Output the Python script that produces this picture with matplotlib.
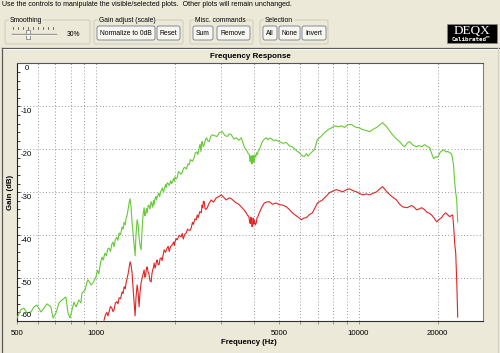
import matplotlib
matplotlib.use("Agg")
import matplotlib.pyplot as plt
from matplotlib.patches import FancyBboxPatch, Rectangle

# ---- data (Hz, dB) ----
green_freq = [500, 517, 531, 545, 565, 580, 595, 617, 633, 650, 673, 686, 704, 722, 742,
              768, 782, 796, 810, 824, 839, 861, 876, 884, 908, 924, 932, 957, 974,
              1000, 1012, 1025, 1040, 1054, 1066, 1080, 1095, 1108, 1121, 1135, 1150, 1160,
              1171, 1185, 1200, 1212, 1224, 1240, 1257, 1268, 1280, 1292, 1302, 1315, 1325,
              1337, 1348, 1360, 1372, 1390, 1409, 1420, 1434, 1447, 1459, 1472, 1485, 1500,
              1512, 1525, 1535, 1545, 1556, 1566, 1578, 1590, 1605, 1622, 1633, 1645, 1655,
              1665, 1678, 1690, 1700, 1710, 1735, 1748, 1760, 1790, 1805, 1818, 1840, 1853,
              1866, 1883, 1900, 1925, 1938, 1950, 1975, 1988, 2000, 2020, 2038, 2060, 2080,
              2105, 2130, 2155, 2180, 2210, 2240, 2265, 2285, 2300, 2330, 2366, 2390, 2420,
              2445, 2473, 2490, 2510, 2525, 2540, 2560, 2584, 2610, 2637, 2665, 2700, 2735,
              2772, 2821, 2896, 2948, 3027, 3100, 3167, 3219, 3276, 3350, 3422, 3500, 3576,
              3671, 3720, 3760, 3800, 3837, 3855, 3870, 3888, 3905, 3920, 3940, 3958, 3975,
              3990, 4010, 4035, 4060, 4090, 4118, 4150, 4190, 4250, 4302, 4380,
              4456, 4520, 4575, 4656, 4750, 4830, 4995, 5150, 5312, 5450, 5599, 5800, 5954,
              6100, 6221, 6330, 6420, 6501, 6650, 6794, 6974, 7200, 7417, 7600, 7752, 7900,
              8099, 8300, 8461, 8600, 8843, 9100, 9404, 9600, 9826, 10100, 10360, 10700,
              11015, 11400, 11713, 12050, 12350, 12600, 12794, 13100, 13485, 13900, 14340,
              14700, 14985, 15300, 15656, 16100, 16652, 17000, 17400, 17862, 18300, 18664,
              19000, 19334, 19700, 20027, 20500, 21110, 21500, 21865, 22300, 22646, 23000,
              23249, 23450, 23660, 23873]
green_gain = [-59.3, -57.4, -57.0, -58.1, -57.9, -56.7, -56.3, -57.9, -57.0, -56.0, -56.7,
              -59.3, -58.1, -55.8, -55.1, -54.4, -58.1, -59.3, -57.4, -55.6, -56.7, -55.1,
              -55.8, -53.5, -52.8, -50.9, -50.4, -51.6, -51.1,
              -49.7, -48.2, -49.0, -46.5, -45.1, -45.8, -44.2, -44.8, -43.2, -43.0, -43.8,
              -42.0, -41.6, -42.7, -41.0, -40.5, -41.2, -39.5, -39.9, -38.1, -38.6, -37.0,
              -37.6, -36.0, -35.2, -34.0, -32.5, -31.5, -33.5, -37.1, -41.0, -44.8, -40.0,
              -36.4, -37.5, -40.5, -42.5, -43.4, -38.0, -35.0, -33.6, -35.5, -35.0, -33.8,
              -34.8, -33.2, -33.0, -33.9, -32.2, -32.8, -33.5, -31.9, -32.9, -31.5, -31.0,
              -31.8, -31.1, -30.2, -31.0, -30.0, -29.0, -30.0, -29.4, -28.2, -28.9, -27.8,
              -28.0, -28.4, -27.3, -28.0, -27.8, -26.8, -27.4, -26.4, -26.9, -26.6, -25.2,
              -25.4, -25.8, -25.4, -24.4, -24.2, -24.6, -23.4, -23.6, -22.4, -22.5, -22.8,
              -21.9, -20.8, -20.6, -21.2, -19.6, -18.8, -20.5, -18.4, -18.2, -19.4, -18.9,
              -17.8, -17.3, -18.0, -18.2, -17.0,
              -16.6, -16.8, -17.0, -16.1, -15.9, -16.8, -17.0, -16.4, -16.6, -17.6, -17.3,
              -17.9, -17.3, -19.4, -20.0, -20.4, -21.0, -21.2, -22.5, -22.9, -21.5, -21.8,
              -23.4, -23.2, -21.4, -21.6, -23.0, -22.4, -21.3, -21.8, -20.8, -21.2, -20.3,
              -20.1, -19.0, -18.2, -17.6,
              -17.3, -17.8, -17.4, -17.5, -18.0, -17.8, -18.2, -18.6, -18.4, -19.2,
              -19.4, -20.3, -20.8, -21.5, -21.7, -21.0, -21.6, -21.2, -20.6, -20.1, -17.7,
              -17.0, -16.1, -15.6, -15.2, -15.0, -14.5, -14.7, -14.7, -14.5, -14.9, -14.3,
              -14.2, -14.6, -14.9, -15.0, -15.4, -15.6, -15.9, -15.3, -14.9, -14.3, -13.8,
              -14.3, -14.7, -15.6, -16.6, -17.5, -18.2, -19.0, -19.4, -18.6, -18.2, -19.0,
              -19.4, -19.1, -19.4, -18.9, -19.4, -19.6, -21.0, -22.2, -21.7, -21.9, -20.6,
              -20.1, -20.6, -20.5, -20.8, -21.2, -23.5, -27.8, -30.0, -31.8, -36.9]

red_freq = [1073, 1085, 1100, 1110, 1121, 1135, 1150, 1160, 1171, 1185, 1200, 1212, 1224,
            1240, 1257, 1268, 1280, 1292, 1302, 1315, 1325, 1337, 1348, 1360, 1372, 1390,
            1409, 1420, 1434, 1445, 1459, 1470, 1485, 1505, 1525, 1535, 1545, 1556, 1566,
            1578, 1590, 1605, 1622, 1633, 1645, 1655, 1665, 1678, 1690, 1700, 1710, 1725,
            1740, 1755, 1771, 1785, 1800, 1818, 1840, 1866, 1883, 1900, 1925, 1950, 1975,
            1988, 2000, 2020, 2038, 2075, 2110, 2130, 2150, 2178, 2206, 2230, 2250, 2280,
            2305, 2330, 2350, 2380, 2408, 2430, 2450, 2485, 2517, 2535, 2550, 2565, 2584,
            2600, 2620, 2653,
            2700, 2747, 2800, 2871, 2940, 3000, 3080, 3135, 3219, 3276, 3350, 3422, 3500,
            3576, 3650, 3736, 3780, 3820, 3845, 3870, 3888, 3905, 3925, 3950, 3968, 3985,
            4010, 4045, 4081, 4105, 4130, 4160, 4190, 4280, 4378,
            4456, 4575, 4700, 4850, 4995, 5150, 5312, 5450, 5599, 5800, 6060, 6200, 6331,
            6500, 6674, 6974, 7288, 7500, 7752, 8000, 8241, 8450, 8688, 9000, 9240, 9500,
            9826, 10100, 10360, 10700, 11015, 11400, 11713, 12050, 12350, 12600, 12905,
            13400, 13964, 14300, 14722, 15300, 15937, 16300, 16652, 17000, 17398, 17800,
            18177, 18600, 18995, 19400, 19852, 20300, 20743, 21100, 21485, 21900, 22252,
            22600, 22846, 23047, 23250, 23454, 23660, 23873]
red_gain = [-59.8, -58.6, -58.0, -58.8, -57.9, -56.6, -57.0, -57.8, -57.4, -55.8, -55.5,
            -56.0, -54.6, -54.8, -53.2, -53.6, -52.0, -52.5, -51.1, -50.0, -49.0, -47.5,
            -46.2, -47.0, -48.8, -54.0, -58.8, -54.5, -51.6, -53.0, -56.7, -53.5, -51.1,
            -49.5, -48.1, -49.8, -49.5, -47.8, -47.4, -48.5, -49.0, -50.6, -50.9, -49.0,
            -48.0, -47.6, -46.5, -47.7, -47.0, -46.0, -45.8, -46.9, -46.8, -45.4, -45.3,
            -45.9, -44.8, -43.4, -44.0, -43.0, -42.6, -43.8, -42.6, -42.3, -41.6, -42.4,
            -41.5, -40.8, -41.1, -40.0, -40.4, -39.6, -40.9, -39.8, -39.5, -38.6, -38.8,
            -38.9, -38.3, -37.0, -37.5, -36.2, -36.4, -35.3, -35.9, -34.5, -34.8, -33.0,
            -33.6, -32.1, -32.2, -33.8, -34.0, -33.6,
            -32.5, -31.8, -32.3, -31.3, -31.0, -30.6, -31.3, -31.8, -31.3, -31.5, -32.0,
            -32.5, -32.8, -33.4, -34.0, -34.8, -35.4, -35.6, -36.8, -37.3, -35.8, -36.4,
            -38.0, -37.8, -36.0, -37.4, -36.5, -37.6, -37.1, -35.9, -35.8, -35.2, -34.8,
            -33.5, -32.5,
            -32.3, -32.2, -32.8, -32.5, -32.9, -33.0, -33.4, -34.0, -34.8, -35.5,
            -36.4, -36.0, -35.9, -35.2, -34.8, -32.5, -31.8, -31.0, -30.1, -29.7, -29.4,
            -29.6, -29.9, -29.4, -29.2, -29.6, -29.9, -30.3, -30.6, -30.4, -30.6, -30.2,
            -29.9, -29.2, -28.7, -29.3, -30.1, -31.0, -31.8, -32.7, -33.4, -33.6, -33.1,
            -33.5, -34.1, -33.9, -33.6, -34.0, -34.6, -34.9, -35.3, -36.0, -36.9, -36.3,
            -35.9, -35.2, -34.8, -35.3, -35.7, -35.4, -35.3, -38.1, -42.0, -44.1, -50.4,
            -59.1]

x_major = [500, 1000, 5000, 10000, 20000]
x_minor = [600, 700, 800, 900, 2000, 3000, 4000, 6000, 7000, 8000, 9000]
y_major = [0, -10, -20, -30, -40, -50, -60]
y_minor = list(range(-58, 0, 2))

# ---- figure / pixel helpers ----
W, H = 500, 353
BG = "#ECE9D8"
plt.rcParams["font.family"] = ["Liberation Sans", "DejaVu Sans"]

fig = plt.figure(figsize=(W / 100, H / 100), dpi=100, facecolor=BG)
# full-figure axes in pixel units for the window chrome
ui = fig.add_axes([0, 0, 1, 1], zorder=0)
ui.set_xlim(0, W)
ui.set_ylim(H, 0)
ui.axis("off")


def button(x, y, w, h, label):
    ui.add_patch(FancyBboxPatch((x, y), w, h, boxstyle="round,pad=0,rounding_size=2",
                                fc="#F7F6F1", ec="#6F7A8A", lw=0.6))
    ui.text(x + w / 2, y + h / 2 + 0.5, label, ha="center", va="center", fontsize=4.9)


def group(x, y, w, h, label):
    ui.add_patch(FancyBboxPatch((x, y), w, h, boxstyle="round,pad=0,rounding_size=2",
                                fc="none", ec="#CFCBB8", lw=0.7))
    ui.text(x + 5, y, label, ha="left", va="center", fontsize=4.9,
            bbox=dict(fc=BG, ec="none", pad=0.6))


ui.text(2, 5, "Use the controls to manipulate the visible/selected plots.  "
        "Other plots will remain unchanged.", ha="left", va="center", fontsize=5.0)

group(5, 20, 85, 24, "Smoothing")
ui.plot([12, 56], [34, 34], color="#9A9A90", lw=1.0)
ui.plot([12, 56], [35, 35], color="white", lw=0.5)
for tx in range(13, 56, 5):
    ui.plot([tx, tx], [27, 29], color="#303030", lw=0.5)
ui.add_patch(Rectangle((25.5, 30), 4.5, 9, fc="#F4F3EE", ec="#707070", lw=0.5))
ui.text(67, 34, "30%", ha="left", va="center", fontsize=4.9)

group(94, 20, 89, 24, "Gain adjust (scale)")
button(97, 26, 58, 14, "Normalize to 0dB")
button(157, 26, 23, 14, "Reset")

group(190, 20, 63, 24, "Misc. commands")
button(193, 26, 20, 14, "Sum")
button(217, 26, 33, 14, "Remove")

group(260, 20, 68, 24, "Selection")
button(263, 26, 14, 14, "All")
button(279, 26, 21, 14, "None")
button(302, 26, 24, 14, "Invert")

# logo
ui.add_patch(Rectangle((447, 24), 50, 19, fc="black", ec="#888888", lw=0.5))
ui.text(472, 31, "DEQX", ha="center", va="center", color="white", fontsize=9.5,
        family="Liberation Serif")
ui.text(471, 39.5, "Calibrated\u2122", ha="center", va="center", color="white",
        fontsize=4.2, fontweight="bold", family="DejaVu Sans Mono")

# panel separator / frame
ui.plot([2, W], [48, 48], color="#5A5A5A", lw=0.9)
ui.plot([2, W], [49.2, 49.2], color="white", lw=0.6)
ui.plot([2, 2], [48, H], color="#5A5A5A", lw=0.9)
ui.plot([497.5, 497.5], [48, H], color="#D4D0C8", lw=0.8)

# ---- chart ----
L, T, R, B = 17, 63.5, 483, 321
ax = fig.add_axes([L / W, 1 - B / H, (R - L) / W, (B - T) / H], zorder=1)
ax.set_facecolor("white")
ax.set_xscale("log")
ax.set_xlim(500, 29800)
ax.set_ylim(-60, 0)

grid_kw = dict(color="#8A8A8A", lw=0.6, linestyle=(0, (1.2, 2.6)))
for f in x_major[1:] + x_minor:
    ax.axvline(f, **grid_kw, zorder=1)
for g in y_major[1:-1]:
    ax.axhline(g, **grid_kw, zorder=1)

ax.plot(green_freq, green_gain, color="#66C936", lw=0.8, zorder=3)
ax.plot(red_freq, red_gain, color="#E02424", lw=0.8, zorder=3)

ax.set_xticks(x_major)
ax.set_xticklabels([str(v) for v in x_major], fontsize=5.6)
ax.set_xticks(x_minor, minor=True)
ax.set_xticklabels([], minor=True)
ax.tick_params(axis="x", which="both", direction="out", length=2.2, width=0.5,
               color="#707070", pad=4)

ax.set_yticks(y_major)
ax.set_yticklabels([])
ax.set_yticks(y_minor, minor=True)
ax.tick_params(axis="y", which="both", direction="in", length=2.2, width=0.6,
               color="#202020")
# y labels sit inside the plot, just under their grid line
for g in y_major:
    if g == y_major[-1]:
        ax.annotate(str(g), (0, g), xycoords=("axes fraction", "data"),
                    xytext=(2.5, 1.5), textcoords="offset points",
                    ha="left", va="bottom", fontsize=5.6)
    else:
        ax.annotate(str(g), (0, g), xycoords=("axes fraction", "data"),
                    xytext=(2.5 if g < 0 else 5.5, -1.2), textcoords="offset points",
                    ha="left", va="top", fontsize=5.6)

for side, col in [("left", "#202020"), ("bottom", "#303030"),
                  ("top", "#555555"), ("right", "#808080")]:
    ax.spines[side].set_color(col)
    ax.spines[side].set_linewidth(0.8)

ui.text((L + R) / 2, 57, "Frequency Response", ha="center", va="center",
        fontsize=5.8, fontweight="bold")
ui.text(249, 343, "Frequency (Hz)", ha="center", va="center", fontsize=5.6,
        fontweight="bold")
ui.text(10, 192, "Gain (dB)", ha="center", va="center", rotation=90, fontsize=5.6,
        fontweight="bold")

fig.savefig("out.png", dpi=100, facecolor=BG)
